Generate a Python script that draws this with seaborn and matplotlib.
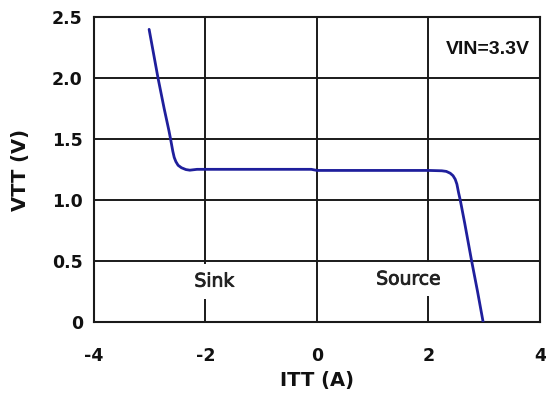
import matplotlib
matplotlib.use("Agg")
import matplotlib.pyplot as plt
import matplotlib.patheffects as pe
import seaborn as sns
import pandas as pd

# Load-line characteristic: output current (A) vs. termination voltage (V)
itt_amps = [-3.01, -2.93, -2.85, -2.74, -2.655, -2.625, -2.605, -2.585,
            -2.56, -2.53, -2.49, -2.43, -2.35, -2.28, -2.15, -1.00, -0.10,
            0.00, 1.00, 2.00, 2.24, 2.32, 2.39, 2.44, 2.48, 2.51, 2.54,
            2.57, 2.65, 2.77, 2.88, 2.98]
vtt_volts = [2.40, 2.20, 2.00, 1.75, 1.57, 1.50, 1.45, 1.40,
             1.35, 1.315, 1.285, 1.265, 1.25, 1.245, 1.252, 1.252, 1.252,
             1.243, 1.243, 1.243, 1.24, 1.235, 1.22, 1.20, 1.17, 1.13, 1.06,
             1.00, 0.81, 0.51, 0.25, 0.00]

x_ticks = [-4, -2, 0, 2, 4]
x_tick_labels = ["-4", "-2", "0", "2", "4"]
y_ticks = [0, 0.5, 1.0, 1.5, 2.0, 2.5]
y_tick_labels = ["0", "0.5", "1.0", "1.5", "2.0", "2.5"]

df = pd.DataFrame({"ITT": itt_amps, "VTT": vtt_volts})

sns.set_style("white")
plt.rcParams["font.family"] = ["DejaVu Sans"]

fig = plt.figure(figsize=(5.46, 3.99), dpi=100)
ax = fig.add_axes([0.172, 0.193, 0.817, 0.764])

sns.lineplot(data=df, x="ITT", y="VTT", sort=False, color="#1f1f9c",
             linewidth=2.0, ax=ax, zorder=3)

ax.set_xlim(-4, 4)
ax.set_ylim(0, 2.5)
ax.set_xticks(x_ticks)
ax.set_xticklabels(x_tick_labels)
ax.set_yticks(y_ticks)
ax.set_yticklabels(y_tick_labels)
ax.grid(True, color="#1a1a1a", linewidth=1.4)
ax.set_axisbelow(True)
for s in ax.spines.values():
    s.set_visible(True)
    s.set_color("#1a1a1a")
    s.set_linewidth(1.5)

ax.tick_params(axis="both", length=0, labelsize=12.5, colors="#111111")
ax.tick_params(axis="x", pad=18)
ax.tick_params(axis="y", pad=8)
for lbl in ax.get_xticklabels() + ax.get_yticklabels():
    lbl.set_fontweight("bold")

ax.set_xlabel("ITT (A)", fontsize=14, fontweight="bold", color="#111111", labelpad=4)
ax.set_ylabel("VTT (V)", fontsize=14, fontweight="bold", color="#111111", labelpad=16)

thick = [pe.withStroke(linewidth=0.6, foreground="#222222")]
box = dict(boxstyle="square,pad=0.42", facecolor="white", edgecolor="none")
ax.text(-1.84, 0.335, "Sink", fontsize=13.5, color="#222222", ha="center",
        va="center", bbox=box, zorder=2.5, path_effects=thick)
ax.text(1.64, 0.352, "Source", fontsize=13.5, color="#222222", ha="center",
        va="center", bbox=box, zorder=2.5, path_effects=thick)
ax.text(3.82, 2.234, "VIN=3.3V", fontsize=14, fontweight="bold",
        family=["Liberation Sans", "DejaVu Sans"],
        color="#111111", ha="right", va="center")

fig.savefig("out.png", dpi=100)
